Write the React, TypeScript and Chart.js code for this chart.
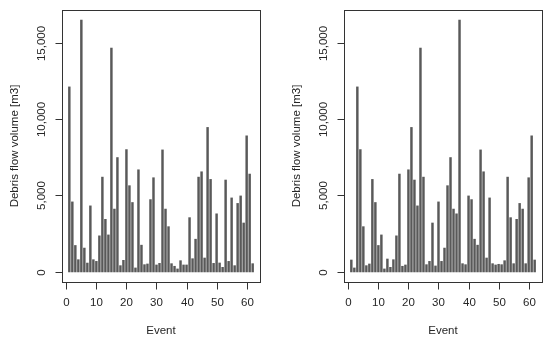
import React, { useEffect, useRef } from "react";
import { Chart, registerables } from "chart.js";

Chart.register(...registerables);

const events = [
  1, 2, 3, 4, 5, 6, 7, 8, 9, 10, 11, 12, 13, 14, 15, 16, 17, 18, 19, 20, 21,
  22, 23, 24, 25, 26, 27, 28, 29, 30, 31, 32, 33, 34, 35, 36, 37, 38, 39, 40,
  41, 42, 43, 44, 45, 46, 47, 48, 49, 50, 51, 52, 53, 54, 55, 56, 57, 58, 59,
  60, 61, 62,
];

const leftVolumes = [
  12100, 4580, 1730, 800, 16470, 1560, 580, 4320, 800, 690, 2360, 6200, 3440,
  2420, 14640, 4110, 7480, 410, 760, 8000, 5640, 4540, 260, 6680, 1750, 475,
  520, 4730, 6160, 455, 560, 7980, 4110, 2960, 540, 370, 195, 735, 455, 455,
  3550, 865, 2140, 6200, 6550, 910, 9450, 6050, 560, 3800, 585, 300, 6010, 690,
  4840, 410, 4480, 4970, 3200, 8900, 6400, 540,
];

const rightVolumes = [
  780, 260, 12100, 8000, 2960, 410, 520, 6050, 4540, 1730, 2420, 195, 845, 300,
  800, 2360, 6400, 370, 455, 6680, 9450, 6010, 4320, 14640, 6200, 475, 690,
  3200, 390, 4580, 690, 1560, 5640, 7480, 4110, 3800, 16470, 540, 475, 4970,
  4730, 2140, 1750, 7980, 6550, 910, 4840, 540, 455, 500, 475, 735, 6200, 3550,
  540, 3440, 4480, 4110, 540, 6160, 8900, 780,
];

const xTicks = [0, 10, 20, 30, 40, 50, 60];
const yTicks = [0, 5000, 10000, 15000];
const xTitle = "Event";
const yTitle = "Debris flow volume [m3]";

const FONT = '11.5px "Liberation Sans", Arial, Helvetica, sans-serif';
const TEXT = "#262626";

function rPlotPlugin() {
  return {
    id: "rplot",
    afterDraw(chart: any) {
      const ctx = chart.ctx;
      const a = chart.chartArea;
      const xs = chart.scales.x;
      const ys = chart.scales.y;
      ctx.save();
      ctx.strokeStyle = "#333";
      ctx.lineWidth = 1;
      const l = Math.round(a.left) + 0.5;
      const r = Math.round(a.right) + 0.5;
      const t = Math.round(a.top) + 0.5;
      const b = Math.round(a.bottom) + 0.5;
      ctx.strokeRect(l, t, r - l, b - t);
      ctx.font = FONT;
      ctx.fillStyle = TEXT;
      ctx.textAlign = "center";
      ctx.textBaseline = "middle";
      xTicks.forEach((v) => {
        const px = Math.round(xs.getPixelForValue(v)) + 0.5;
        ctx.beginPath();
        ctx.moveTo(px, b);
        ctx.lineTo(px, b + 7);
        ctx.stroke();
        ctx.fillText(String(v), px, b + 20.5);
      });
      yTicks.forEach((v) => {
        const py = Math.round(ys.getPixelForValue(v)) + 0.5;
        ctx.beginPath();
        ctx.moveTo(l, py);
        ctx.lineTo(l - 7, py);
        ctx.stroke();
        ctx.save();
        ctx.translate(l - 20.5, py);
        ctx.rotate(-Math.PI / 2);
        ctx.fillText(v.toLocaleString("en-US"), 0, 0);
        ctx.restore();
      });
      ctx.fillText(xTitle, (a.left + a.right) / 2, b + 48);
      ctx.save();
      ctx.translate(l - 47.5, (a.top + a.bottom) / 2);
      ctx.rotate(-Math.PI / 2);
      ctx.fillText(yTitle, 0, 0);
      ctx.restore();
      ctx.restore();
    },
  };
}

function Panel({ values, padLeft, padRight }: { values: number[]; padLeft: number; padRight: number }) {
  const ref = useRef<HTMLCanvasElement | null>(null);
  useEffect(() => {
    if (!ref.current) return;
    const maxV = Math.max(...values);
    const chart = new Chart(ref.current, {
      type: "bar",
      data: {
        datasets: [
          {
            data: events.map((e, i) => ({ x: e, y: values[i] })),
            backgroundColor: "#595959",
            borderWidth: 0,
            barThickness: 1.8,
          },
        ],
      },
      options: {
        responsive: false,
        animation: false,
        layout: { padding: { left: padLeft, right: padRight, top: 10, bottom: 57 } },
        plugins: { legend: { display: false }, tooltip: { enabled: false } },
        scales: {
          x: {
            type: "linear",
            min: 1 - 0.04 * 61,
            max: 62 + 0.04 * 61,
            display: false,
            offset: false,
          },
          y: {
            min: -0.04 * maxV,
            max: maxV * 1.04,
            display: false,
          },
        },
      },
      plugins: [rPlotPlugin()],
    });
    return () => chart.destroy();
  }, [values, padLeft, padRight]);
  return <canvas ref={ref} width={275} height={339} style={{ display: "block" }} />;
}

export default function App() {
  return (
    <div
      style={{
        position: "absolute",
        left: 0,
        top: 0,
        width: 550,
        height: 339,
        display: "flex",
        background: "#fff",
      }}
    >
      <Panel values={leftVolumes} padLeft={62} padRight={15} />
      <Panel values={rightVolumes} padLeft={69} padRight={8} />
    </div>
  );
}
